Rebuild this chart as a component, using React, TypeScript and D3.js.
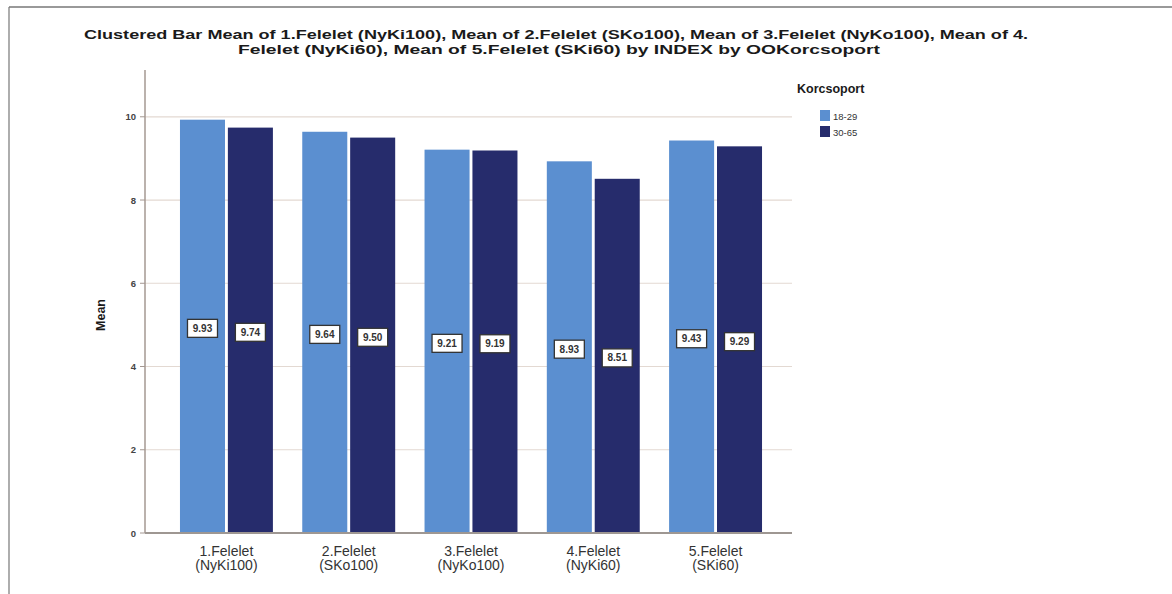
import React from "react";
import * as d3 from "d3";

const categories = ["1.Felelet|(NyKi100)", "2.Felelet|(SKo100)", "3.Felelet|(NyKo100)", "4.Felelet|(NyKi60)", "5.Felelet|(SKi60)"];
const groups = ["18-29", "30-65"];
const values1829 = [9.93, 9.64, 9.21, 8.93, 9.43];
const values3065 = [9.74, 9.5, 9.19, 8.51, 9.29];
const yTicks = [0, 2, 4, 6, 8, 10];
const titleLines = [
  "Clustered Bar Mean of 1.Felelet (NyKi100), Mean of 2.Felelet (SKo100), Mean of 3.Felelet (NyKo100), Mean of 4.",
  "Felelet (NyKi60), Mean of 5.Felelet (SKi60) by INDEX by OOKorcsoport",
];
const legendTitle = "Korcsoport";
const yLabel = "Mean";

const colors = ["#5b8fd0", "#262c6c"];
const FONT = "'Liberation Sans', Arial, sans-serif";

export default function App() {
  const W = 1172, H = 594;
  const x = d3.scaleBand<string>().domain(categories).range([145, 797]).paddingInner(0.24).paddingOuter(0.286);
  const xs = d3.scaleBand<string>().domain(groups).range([0, x.bandwidth()]).paddingInner(0.06);
  const y = d3.scaleLinear().domain([0, 11.1]).range([533, 71]);
  const series = [values1829, values3065];

  return (
    <svg width={W} height={H} style={{ position: "absolute", left: 0, top: 0, background: "#fff" }}>
      {/* page frame */}
      <line x1={9} x2={W} y1={7} y2={7} stroke="#777" strokeWidth={1.5} />
      <line x1={9} x2={9} y1={7} y2={H} stroke="#777" strokeWidth={1.2} />

      {/* title */}
      {titleLines.map((t, i) => (
        <text key={i} x={i === 0 ? 556 : 559} y={39 + i * 15} textAnchor="middle" fontFamily={FONT} fontWeight="bold"
          fontSize={12.5} fill="#1a1a1a" textLength={i === 0 ? 944 : 642} lengthAdjust="spacingAndGlyphs">{t}</text>
      ))}

      {/* gridlines */}
      {yTicks.filter(t => t > 0).map(t => (
        <line key={t} x1={145} x2={792} y1={y(t)} y2={y(t)} stroke="#e3d9d2" strokeWidth={1.2} />
      ))}

      {/* bars */}
      {categories.map((c, ci) => (
        <g key={c} transform={`translate(${x(c)},0)`}>
          {groups.map((g, gi) => {
            const v = series[gi][ci];
            return (
              <rect key={g} x={xs(g)} y={y(v)} width={xs.bandwidth()} height={y(0) - y(v)} fill={colors[gi]} />
            );
          })}
        </g>
      ))}

      {/* value labels */}
      {categories.map((c, ci) => (
        <g key={c + "l"} transform={`translate(${x(c)},0)`}>
          {groups.map((g, gi) => {
            const v = series[gi][ci];
            const cx = (xs(g) as number) + xs.bandwidth() / 2;
            const cy = (y(v) + y(0)) / 2 + 2;
            return (
              <g key={g}>
                <rect x={cx - 15} y={cy - 9} width={30} height={18} fill="#fff" stroke="#333" strokeWidth={1.3} />
                <text x={cx} y={cy + 3.5} textAnchor="middle" fontFamily={FONT} fontSize={10} fontWeight="bold" fill="#333">{v.toFixed(2)}</text>
              </g>
            );
          })}
        </g>
      ))}

      {/* y axis */}
      <line x1={145} x2={145} y1={70} y2={533} stroke="#a49892" strokeWidth={1.5} />
      {yTicks.map(t => (
        <g key={t}>
          <line x1={140} x2={145} y1={y(t)} y2={y(t)} stroke="#a49892" strokeWidth={1} />
          <text x={136} y={y(t) + 3.5} textAnchor="end" fontFamily={FONT} fontSize={9.5} fontWeight="bold" fill="#444">{t}</text>
        </g>
      ))}
      {/* x axis baseline */}
      <line x1={145} x2={792} y1={y(0)} y2={y(0)} stroke="#9e9792" strokeWidth={2} />

      {/* x labels */}
      {categories.map(c => {
        const [a, b] = c.split("|");
        const cx = (x(c) as number) + x.bandwidth() / 2;
        return (
          <g key={c + "x"}>
            <text x={cx} y={556} textAnchor="middle" fontFamily={FONT} fontSize={14} fill="#333">{a}</text>
            <text x={cx} y={570} textAnchor="middle" fontFamily={FONT} fontSize={14} fill="#333">{b}</text>
          </g>
        );
      })}

      {/* y label */}
      <text transform="translate(105,315) rotate(-90)" textAnchor="middle" fontFamily={FONT} fontWeight="bold" fontSize={12.5} fill="#1a1a1a">{yLabel}</text>

      {/* legend */}
      <text x={797} y={93} fontFamily={FONT} fontWeight="bold" fontSize={12.5} fill="#1a1a1a">{legendTitle}</text>
      {groups.map((g, i) => (
        <g key={g}>
          <rect x={820} y={110 + i * 16} width={10} height={11} fill={colors[i]} />
          <text x={833} y={119.5 + i * 16} fontFamily={FONT} fontSize={9.5} fill="#333">{g}</text>
        </g>
      ))}
    </svg>
  );
}
